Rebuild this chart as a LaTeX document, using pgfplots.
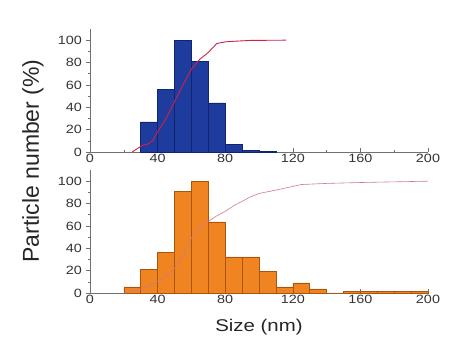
\documentclass[border=0pt]{standalone}
\usepackage{fontspec}
\setmainfont{Liberation Sans}[FakeStretch=1.2]
\newfontfamily\ylabfont{Liberation Sans}
\usepackage{pgfplots}
\pgfplotsset{compat=1.18}
\definecolor{barblue}{HTML}{1E3C9E}
\definecolor{edgeblue}{HTML}{12246E}
\definecolor{barorange}{HTML}{F08420}
\definecolor{edgeorange}{HTML}{A8560E}
\definecolor{cumred}{HTML}{D0204A}
\definecolor{cumpink}{HTML}{D07A8A}
\definecolor{axgray}{HTML}{707070}
\pgfplotsset{
  histax/.style={
    scale only axis, width=338pt, height=123pt,
    xmin=0, xmax=200, ymin=0, ymax=110,
    axis x line=bottom, axis y line=left,
    axis line style={-, axgray, line width=0.8pt},
    xtick={0,40,80,120,160,200}, ytick={0,20,40,60,80,100},
    minor x tick num=1, minor y tick num=1,
    xtick align=inside, ytick align=outside,
    major tick length=3.5pt, minor tick length=2pt,
    every tick/.style={axgray, line width=0.6pt},
    tick label style={font=\fontsize{12}{12}\selectfont, text=black!80},
    /pgf/number format/assume math mode=true,
    xticklabel style={yshift=1pt},
    yticklabel style={xshift=-1pt},
    clip=false,
  }
}
\begin{document}
\begin{tikzpicture}
\useasboundingbox (0,0) rectangle (450pt,340pt);
% top
\begin{axis}[histax, at={(90pt,188pt)}, anchor=south west]
\addplot[ybar interval, fill=barblue, draw=edgeblue, line width=0.5pt] coordinates {
(30,27) (40,56) (50,100) (60,81) (70,44) (80,7) (90,1.5) (100,0.6) (110,0.6)};
\addplot[cumred, line width=0.9pt, mark=none] coordinates {
(25,0) (28,3) (31,6) (34,7) (37,10) (40,18) (45,30) (50,45) (55,60) (60,74) (65,83) (70,89) (75,97) (80,98.5) (85,99) (95,99.8) (116,100)};
\end{axis}
% bottom
\begin{axis}[histax, at={(90pt,47pt)}, anchor=south west,
  xlabel={Size (nm)}, xlabel style={font=\fontsize{17}{17}\selectfont, text=black!85, yshift=-8pt}]
\addplot[ybar interval, fill=barorange, draw=edgeorange, line width=0.5pt] coordinates {
(20,5.4) (30,21) (40,36.5) (50,90.7) (60,100) (70,63.5) (80,32.3) (90,32.3) (100,19.2) (110,5.4) (120,9) (130,3.6) (140,0) (150,1.5) (160,1.5) (170,1.5) (180,1.5) (190,1.5) (200,1.5)};
\addplot[cumpink, line width=0.6pt, mark=none] coordinates {
(20,0) (25,1.5) (30,3.5) (35,6.5) (40,10.5) (45,15) (50,22) (55,34) (60,49) (65,59) (70,64) (75,69) (80,73) (85,78) (90,82) (95,86) (100,89) (110,92) (125,97) (140,98) (160,98.8) (200,100)};
\end{axis}
\node[rotate=90, font=\ylabfont\fontsize{23}{23}\selectfont, text=black!85] at (33pt,179pt) {Particle number (\%)};
\end{tikzpicture}
\end{document}
